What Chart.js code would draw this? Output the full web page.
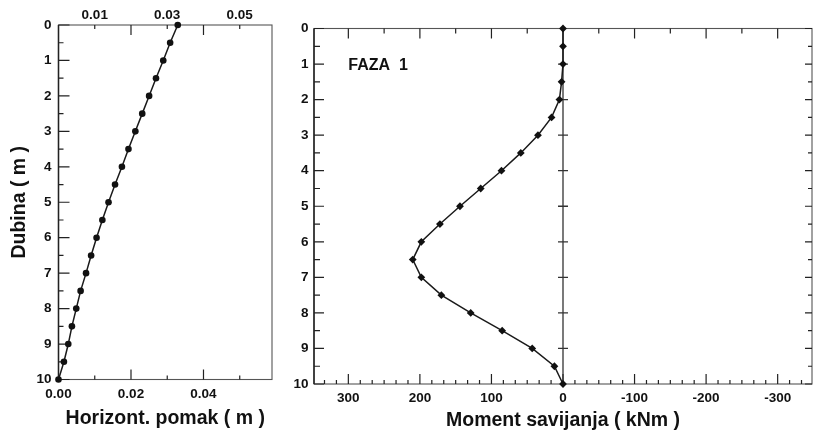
<!DOCTYPE html>
<html><head><meta charset="utf-8">
<script src="https://cdn.jsdelivr.net/npm/chart.js@4/dist/chart.umd.min.js"></script>
<style>
html,body{margin:0;padding:0;background:#fff;}
#wrap{position:relative;width:816px;height:437px;overflow:hidden;background:#fff;}
#c1box{position:absolute;left:0;top:0;width:285px;height:437px;}
#c2box{position:absolute;left:285px;top:0;width:531px;height:437px;}
</style></head><body>
<div id="wrap"><div id="c1box"><canvas id="c1" width="285" height="437"></canvas></div><div id="c2box"><canvas id="c2" width="531" height="437"></canvas></div></div>
<script>
// ---- data ----
const depths = [0,0.5,1,1.5,2,2.5,3,3.5,4,4.5,5,5.5,6,6.5,7,7.5,8,8.5,9,9.5,10];
const displacement = [0.0329,0.0308,0.0289,0.0269,0.0250,0.0231,0.0212,0.0193,0.0175,0.0156,0.0138,0.0121,0.0105,0.0090,0.0076,0.0061,0.0049,0.0037,0.0027,0.0015,0.0000];
const moment = [0,0,0,2,5,16,35,59,86,115,144,172,198,210,198,170,129,85,43,12,0];
const depthTicks = [0,1,2,3,4,5,6,7,8,9,10];
const dispBottomTicks = [0,0.02,0.04];
const dispTopTicks = [0.01,0.03,0.05];
const momentTicks = [300,200,100,0,-100,-200,-300];
const depthTitle = 'Dubina ( m )';
const dispTitle = 'Horizont. pomak ( m )';
const momentTitle = 'Moment savijanja ( kNm )';
const phaseLabel = 'FAZA  1';

const FAM = '"Liberation Sans", Arial, Helvetica, sans-serif';
const tickFont = {family: FAM, size: 13.5, weight: 'bold'};
const titleFont = {family: FAM, size: 19.5, weight: 'bold'};
const TXT = '#111';

function setTicks(list){ return s => { s.ticks = list.map(v => ({value: v})); }; }

function drawTicks(ctx, a, scale, side, entries){
  ctx.beginPath();
  for (const [v, len] of entries){
    const p = scale.getPixelForValue(v);
    if (side === 'top'){ ctx.moveTo(p, a.top); ctx.lineTo(p, a.top + len); }
    else if (side === 'bottom'){ ctx.moveTo(p, a.bottom); ctx.lineTo(p, a.bottom - len); }
    else if (side === 'left'){ ctx.moveTo(a.left, p); ctx.lineTo(a.left + len, p); }
    else { ctx.moveTo(a.right, p); ctx.lineTo(a.right - len, p); }
  }
  ctx.stroke();
}

const leftFrame = {
  id: 'leftFrame',
  beforeDatasetsDraw(chart){
    const ctx = chart.ctx, a = chart.chartArea;
    ctx.save();
    ctx.strokeStyle = '#555'; ctx.lineWidth = 1.1;
    ctx.strokeRect(a.left, a.top, a.width, a.height);
    ctx.strokeStyle = '#222'; ctx.lineWidth = 1.5;
    ctx.beginPath(); ctx.moveTo(a.left, a.top); ctx.lineTo(a.left, a.bottom); ctx.stroke();
    ctx.lineWidth = 1.2;
    const ys = []; for (let i = 0; i <= 20; i++) ys.push([i/2, i % 2 ? 5 : 11]);
    drawTicks(ctx, a, chart.scales.y, 'left', ys);
    const xs = []; for (let i = 1; i <= 5; i++) xs.push([i/100, i % 2 ? 4 : 10]);
    drawTicks(ctx, a, chart.scales.x, 'bottom', xs);
    drawTicks(ctx, a, chart.scales.x, 'top', xs);
    ctx.restore();
  }
};

const rightFrame = {
  id: 'rightFrame',
  beforeDatasetsDraw(chart){
    const ctx = chart.ctx, a = chart.chartArea;
    const xs = chart.scales.x, ys = chart.scales.y;
    ctx.save();
    ctx.strokeStyle = '#555'; ctx.lineWidth = 1.1;
    ctx.strokeRect(a.left, a.top, a.width, a.height);
    ctx.strokeStyle = '#222'; ctx.lineWidth = 1.5;
    ctx.beginPath(); ctx.moveTo(a.left, a.top); ctx.lineTo(a.left, a.bottom); ctx.stroke();
    ctx.lineWidth = 1.2;
    const yl = [], yr = [];
    for (let i = 0; i <= 20; i++){ yl.push([i/2, i % 2 ? 6 : 10]); yr.push([i/2, i % 2 ? 4 : 7]); }
    drawTicks(ctx, a, ys, 'left', yl);
    drawTicks(ctx, a, ys, 'right', yr);
    const xt = []; for (let k = -6; k <= 6; k++) if (k !== 0) xt.push([k*50, k % 2 ? 5 : 10]);
    drawTicks(ctx, a, xs, 'top', xt);
    const xb = []; for (let k = -20; k <= 20; k++) xb.push([k*100/6, k % 6 ? 4 : 10]);
    drawTicks(ctx, a, xs, 'bottom', xb);
    // zero line with crosses
    const x0 = xs.getPixelForValue(0);
    ctx.strokeStyle = '#333'; ctx.lineWidth = 1.3;
    ctx.beginPath(); ctx.moveTo(x0, a.top); ctx.lineTo(x0, a.bottom);
    for (let d = 1; d <= 9; d++){ const p = ys.getPixelForValue(d); ctx.moveTo(x0 - 5, p); ctx.lineTo(x0 + 5, p); }
    ctx.stroke();
    // phase label
    ctx.fillStyle = TXT;
    ctx.font = 'bold 16px ' + FAM;
    ctx.textAlign = 'left'; ctx.textBaseline = 'middle';
    ctx.fillText(phaseLabel, xs.getPixelForValue(300), ys.getPixelForValue(1.05));
    ctx.restore();
  }
};

new Chart(document.getElementById('c1'), {
  type: 'line',
  data: { datasets: [{
    data: depths.map((d, i) => ({x: displacement[i], y: d})),
    borderColor: '#1a1a1a', borderWidth: 1.5, pointStyle: 'circle', pointRadius: 3.3,
    pointBackgroundColor: '#111', pointBorderColor: '#111', pointBorderWidth: 0, clip: false, tension: 0
  }]},
  options: {
    responsive: false, animation: false, devicePixelRatio: 1,
    layout: {padding: {left: 0, right: 13, top: 0, bottom: 0}},
    plugins: {legend: {display: false}, tooltip: {enabled: false}},
    scales: {
      x: { type: 'linear', position: 'bottom', min: 0, max: 0.0589,
        grid: {display: false, drawTicks: false}, border: {display: false},
        afterBuildTicks: setTicks(dispBottomTicks),
        ticks: {font: tickFont, color: TXT, padding: 6.5, maxRotation: 0, autoSkip: false, callback: v => v.toFixed(2)},
        title: {display: true, text: dispTitle, font: titleFont, color: TXT, padding: {top: 0, bottom: 6.5}},
        afterFit: s => { s.height = 57.5; } },
      x2: { type: 'linear', position: 'top', min: 0, max: 0.0589,
        grid: {display: false, drawTicks: false}, border: {display: false},
        afterBuildTicks: setTicks(dispTopTicks),
        ticks: {font: tickFont, color: TXT, padding: 2, maxRotation: 0, autoSkip: false, callback: v => v.toFixed(2)},
        afterFit: s => { s.height = 25; } },
      y: { type: 'linear', reverse: true, min: 0, max: 10,
        grid: {display: false, drawTicks: false}, border: {display: false},
        afterBuildTicks: setTicks(depthTicks),
        ticks: {font: tickFont, color: TXT, padding: 7, autoSkip: false, callback: v => String(v)},
        title: {display: true, text: depthTitle, font: titleFont, color: TXT, padding: {top: 8.3, bottom: 0}},
        afterFit: s => { s.width = 58.5; } }
    }
  },
  plugins: [leftFrame]
});

new Chart(document.getElementById('c2'), {
  type: 'line',
  data: { datasets: [{
    data: depths.map((d, i) => ({x: moment[i], y: d})),
    borderColor: '#1a1a1a', borderWidth: 1.5, pointStyle: 'rectRot', pointRadius: 3.9,
    pointBackgroundColor: '#111', pointBorderColor: '#111', pointBorderWidth: 0, clip: false, tension: 0
  }]},
  options: {
    responsive: false, animation: false, devicePixelRatio: 1,
    layout: {padding: {left: 0, right: 3, top: 28.5, bottom: 0}},
    plugins: {legend: {display: false}, tooltip: {enabled: false}},
    scales: {
      x: { type: 'linear', position: 'bottom', min: -348, max: 348, reverse: true,
        grid: {display: false, drawTicks: false}, border: {display: false},
        afterBuildTicks: setTicks(momentTicks),
        ticks: {font: tickFont, color: TXT, padding: 6.2, maxRotation: 0, autoSkip: false, callback: v => String(v)},
        title: {display: true, text: momentTitle, font: titleFont, color: TXT, padding: {top: 0, bottom: 5}},
        afterFit: s => { s.height = 53; } },
      y: { type: 'linear', reverse: true, min: 0, max: 10,
        grid: {display: false, drawTicks: false}, border: {display: false},
        afterBuildTicks: setTicks(depthTicks),
        ticks: {font: tickFont, color: TXT, padding: 5.5, autoSkip: false, callback: v => String(v)},
        afterFit: s => { s.width = 29; } }
    }
  },
  plugins: [rightFrame]
});
</script>
</body></html>
